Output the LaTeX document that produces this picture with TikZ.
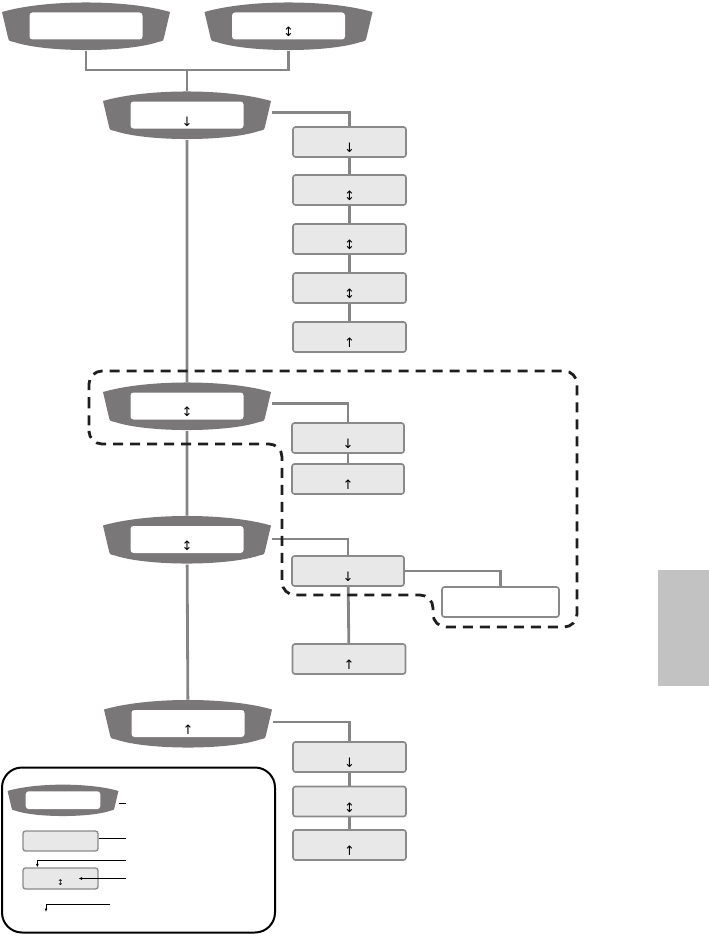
\documentclass[tikz,border=0pt]{standalone}
\usepackage{fontspec}
\newfontfamily\arrowfont{DejaVu Sans}
\usetikzlibrary{arrows.meta,backgrounds}
\definecolor{lensgray}{HTML}{797777}
\definecolor{linegray}{HTML}{858585}
\definecolor{boxfill}{HTML}{E8E8E8}
\definecolor{boxline}{HTML}{8A8A8A}
\definecolor{dashcol}{HTML}{1E1E1E}
\definecolor{sidegray}{HTML}{C2C2C2}
\newcommand\lensshape[3]{%
  \begin{scope}[shift={(#1,#2)},scale=#3]
    \fill[lensgray] (-84,-14.5) .. controls (-40,-27.2) and (40,-27.2) .. (84,-14.5)
      -- (78,11) .. controls (77,14.5) .. (72,15.5)
      .. controls (40,26.2) and (-40,26.2) .. (-72,15.5)
      .. controls (-77,14.5) .. (-78,11) -- cycle;
    \fill[white, rounded corners=3pt] (-56.5,-14) rectangle (56.5,13);
  \end{scope}}
\begin{document}
\begin{tikzpicture}[x=1pt,y=-1pt,
  lensnode/.style={minimum width=170pt, minimum height=49pt, inner sep=0pt, outer sep=0pt},
  gbox/.style={draw=boxline, fill=boxfill, line width=1.6pt, rounded corners=2.5pt, minimum width=113pt, minimum height=30pt, inner sep=0pt},
  wbox/.style={gbox, fill=white},
  conn/.style={draw=linegray, line width=2.8pt},
  arr/.style={font=\arrowfont\fontsize{13}{13}\selectfont, inner sep=0pt},
  dashline/.style={draw=dashcol, line width=2.8pt, dash pattern=on 10pt off 7pt, rounded corners=13pt},
  legline/.style={draw=black, line width=0.9pt},
  legarrow/.style={legline, -{Latex[length=3.5pt,width=3pt]}}
]
\useasboundingbox (0,0) rectangle (709,934);

% lens nodes (invisible placeholders)
\node[lensnode] (TL) at (86,26.5) {};
\node[lensnode] (TR) at (288.5,26.5) {};
\node[lensnode] (L2) at (187,115.5) {};
\node[lensnode] (L3) at (187,406.5) {};
\node[lensnode] (L4) at (187,540) {};
\node[lensnode] (L5) at (188,724) {};

% boxes
\node[gbox] (B1) at (349.5,142) {};
\node[gbox] (B2) at (349.5,190) {};
\node[gbox] (B3) at (349.5,239) {};
\node[gbox] (B4) at (349.5,288) {};
\node[gbox] (B5) at (349.5,337) {};
\node[gbox, minimum width=112pt] (A1) at (348,438) {};
\node[gbox, minimum width=112pt] (A2) at (348,479) {};
\node[gbox, minimum width=112pt] (C) at (348,571) {};
\node[wbox, minimum width=117pt] (D) at (500.5,602) {};
\node[gbox] (E) at (349,659) {};
\node[gbox] (F) at (349.5,757) {};
\node[gbox] (G) at (349.5,801.5) {};
\node[gbox] (H) at (349.5,845) {};

% connectors
\coordinate (J) at (187,70);
\begin{pgfonlayer}{background}
\draw[conn] (TL.south) |- (J) -| (TR.south);
\draw[conn] (J) -- (L2.north);
\draw[conn] ([yshift=3pt]L2.east) -| (B1.north);
\draw[conn] (B1) -- (B2) -- (B3) -- (B4) -- (B5);
\draw[conn] (L2) -- (L3) -- (L4) -- (L5);
\draw[conn] ([yshift=3pt]L3.east) -| (A1.north);
\draw[conn] (A1) -- (A2);
\draw[conn] ([yshift=1pt]L4.east) -| (C.north);
\draw[conn] (C.east) -| (D.north);
\draw[conn] (C) -- (E);
\draw[conn] ([yshift=2pt]L5.east) -| (F.north);
\draw[conn] (F) -- (G) -- (H);
\end{pgfonlayer}

% lens shapes
\lensshape{86}{26.5}{1}
\lensshape{288.5}{26.5}{1}
\lensshape{187}{115.5}{1}
\lensshape{187}{406.5}{1}
\lensshape{187}{540}{1}
\lensshape{188}{724}{1}

% arrow texts
\node[arr] (TRt) at ([yshift=-5.5pt]TR.center) {↕};
\node[arr] (L2t) at ([yshift=-6pt]L2.center) {↓};
\node[arr] (L3t) at ([yshift=-5.5pt]L3.center) {↕};
\node[arr] (L4t) at ([yshift=-5.5pt]L4.center) {↕};
\node[arr] (L5t) at ([yshift=-6pt]L5.center) {↑};
\node[arr] (B1t) at ([yshift=-6pt]B1.center) {↓};
\node[arr] (B2t) at ([yshift=-6pt]B2.center) {↕};
\node[arr] (B3t) at ([yshift=-6pt]B3.center) {↕};
\node[arr] (B4t) at ([yshift=-6pt]B4.center) {↕};
\node[arr] (B5t) at ([yshift=-6pt]B5.center) {↑};
\node[arr] (A1t) at ([yshift=-6pt]A1.center) {↓};
\node[arr] (A2t) at ([yshift=-6pt]A2.center) {↑};
\node[arr] (Ct) at ([yshift=-6pt]C.center) {↓};
\node[arr] (Et) at ([yshift=-6pt]E.center) {↑};
\node[arr] (Ft) at ([yshift=-6pt]F.center) {↓};
\node[arr] (Gt) at ([yshift=-6pt]G.center) {↕};
\node[arr] (Ht) at ([yshift=-6pt]H.center) {↑};

% dashed group outline
\draw[dashline] (89,420) -- (89,371) -- (577,371) -- (577,627) -- (433,627)
  -- (433,595) -- (282,595) -- (282,444) -- (89,444) -- cycle;

% side tab
\node[fill=sidegray, minimum width=51pt, minimum height=116pt, inner sep=0pt] (SB) at (683.5,628) {};

% legend
\node[draw=black, line width=2pt, rounded corners=20pt, minimum width=273pt, minimum height=165pt, inner sep=0pt] (LG) at (138.5,850) {};
\node[lensnode, minimum width=112pt, minimum height=32pt] (LL) at (63,800.5) {};
\lensshape{63}{800.5}{0.66}
\node[gbox, line width=1.3pt, minimum width=75pt, minimum height=20pt] (LB1) at (60.5,841) {};
\node[gbox, line width=1.3pt, minimum width=75pt, minimum height=21pt] (LB2) at (60.5,878.5) {};
\node[font=\arrowfont\fontsize{8}{8}\selectfont, inner sep=0pt] (LB2t) at ([yshift=-4.5pt]LB2.center) {↕};
\coordinate (k1) at (126,803);
\coordinate (k2) at (126,838);
\coordinate (k3) at (126,860);
\coordinate (k4) at (126,878.5);
\coordinate (k5) at (110,904);
\coordinate (k6) at (46,912);
\draw[legline] (LL.east |- k1) -- (k1);
\draw[legline] (LB1.east |- k2) -- (k2);
\draw[legarrow] (k3) -| ([xshift=15pt]LB2.north west);
\draw[legarrow] (k4) -- ([xshift=18pt]LB2.center);
\draw[legarrow] (k5) -| (k6);
\end{tikzpicture}
\end{document}
